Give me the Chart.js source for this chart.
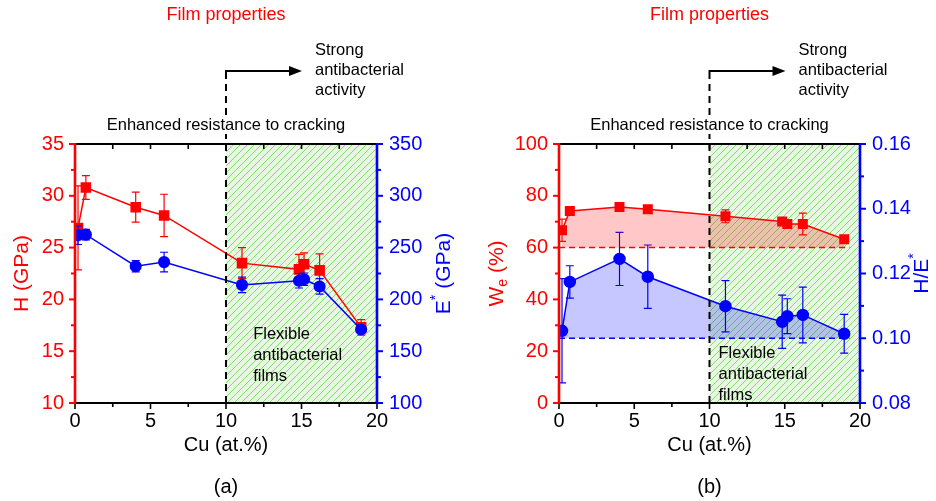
<!DOCTYPE html>
<html>
<head>
<meta charset="utf-8">
<script src="https://cdn.jsdelivr.net/npm/chart.js@4.4.1/dist/chart.umd.min.js"></script>
<style>
  html, body { margin: 0; padding: 0; background: #fff; }
  .wrap { position: relative; width: 936px; height: 501px; }
  canvas { position: absolute; top: 0; }
  #chartA { left: 0; }
  #chartB { left: 468px; }
</style>
</head>
<body>
<div class="wrap">
  <canvas id="chartA" width="468" height="501"></canvas>
  <canvas id="chartB" width="468" height="501"></canvas>
</div>
<script>
/* Cu-doped films: hardness, modulus, elastic recovery and H/E* vs Cu content */

const FONT = "'Liberation Sans', Arial, Helvetica, sans-serif";
const RED  = '#ff0000';
const BLUE = '#0000ff';

// Cu content of each film (at.%)
const cu = [0.2, 0.72, 4.02, 5.9, 11.06, 14.83, 15.17, 16.2, 18.95];

// (a) hardness H and effective modulus E*, GPa
const hardness    = [26.9, 30.8, 28.9, 28.1, 23.5, 22.9, 23.4, 22.8, 17.3];
const hardnessErr = [4.05, 1.15, 1.45, 2.05, 1.5, 1.45, 1.1, 1.6, 0.75];
const modulus     = [262, 262.5, 232, 236, 214, 218, 219.5, 212.5, 171];
const modulusErr  = [9, 5, 5.5, 9.5, 7.5, 7, 6, 7.5, 3.2];

// (b) elastic recovery We (%) and H/E*
const recovery    = [66.7, 74.1, 75.7, 74.8, 72.1, 70.1, 69.1, 69.1, 63.2];
const recoveryErr = [4.3, 1.4, 1.0, 1.0, 2.5, 1.2, 1.0, 4.2, 1.0];
const ratio       = [0.1023, 0.1174, 0.1245, 0.1190, 0.1099, 0.1051, 0.1068, 0.1072, 0.1014];
const ratioErr    = [0.0161, 0.0050, 0.0082, 0.0098, 0.0079, 0.0082, 0.0054, 0.0086, 0.0060];

// axis ticks
const cuTicks    = [0, 5, 10, 15, 20];
const hTicks     = [10, 15, 20, 25, 30, 35];
const eTicks     = [100, 150, 200, 250, 300, 350];
const weTicks    = [0, 20, 40, 60, 80, 100];
const ratioTicks = [0.08, 0.10, 0.12, 0.14, 0.16];

// reference levels and the flexible-film zone
const recoveryBase = 60;
const ratioBase    = 0.10;
const baseRange    = [0, 19.3];
const flexZone     = [10, 20];

const pts = ys => ys.map((y, i) => ({ x: cu[i], y }));
const font = (size) => `${size}px ${FONT}`;

function hatchPattern(ctx) {
  const s = 7;
  const c = document.createElement('canvas');
  c.width = c.height = s;
  const g = c.getContext('2d');
  g.fillStyle = '#e6f8df';
  g.fillRect(0, 0, s, s);
  g.strokeStyle = '#88d877';
  g.lineWidth = 1;
  g.beginPath();
  g.moveTo(0, s); g.lineTo(s, 0);
  g.moveTo(-1, 1); g.lineTo(1, -1);
  g.moveTo(s - 1, s + 1); g.lineTo(s + 1, s - 1);
  g.stroke();
  return ctx.createPattern(c, 'repeat');
}

// major ticks plus a minor tick halfway between each pair
function withMinor(vals) {
  const out = [];
  vals.forEach((v, i) => {
    out.push({ v, major: true });
    if (i < vals.length - 1) out.push({ v: (v + vals[i + 1]) / 2, major: false });
  });
  return out;
}

// rotated title made of runs (for sub/superscripts)
function rotatedTitle(ctx, cx, cy, parts, color) {
  ctx.save();
  ctx.translate(cx, cy);
  ctx.rotate(-Math.PI / 2);
  ctx.fillStyle = color;
  ctx.textBaseline = 'middle';
  ctx.textAlign = 'left';
  let w = 0;
  parts.forEach(p => { ctx.font = font(p.size || 21); w += ctx.measureText(p.t).width; });
  let x = -w / 2;
  parts.forEach(p => {
    ctx.font = font(p.size || 21);
    ctx.fillText(p.t, x, p.dy || 0);
    x += ctx.measureText(p.t).width;
  });
  ctx.restore();
}

const decor = {
  id: 'decor',
  beforeDatasetsDraw(chart) {
    const { ctx, chartArea: a, scales: { x } } = chart;
    const x0 = x.getPixelForValue(flexZone[0]);
    const x1 = x.getPixelForValue(flexZone[1]);
    ctx.save();
    ctx.fillStyle = hatchPattern(ctx);
    ctx.fillRect(x0, a.top, x1 - x0, a.bottom - a.top);
    ctx.restore();
  },
  // error bars go under each dataset's line and markers
  beforeDatasetDraw(chart, { index, meta }) {
    const ds = chart.data.datasets[index];
    if (!ds.errors) return;
    const ys = chart.scales[ds.yAxisID];
    const ctx = chart.ctx;
    ctx.save();
    ctx.strokeStyle = ds.borderColor;
    ctx.lineWidth = 1.2;
    meta.data.forEach((pt, i) => {
      const v = ds.data[i].y, e = ds.errors[i];
      const hi = ys.getPixelForValue(v + e), lo = ys.getPixelForValue(v - e);
      ctx.beginPath();
      ctx.moveTo(pt.x, hi); ctx.lineTo(pt.x, lo);
      ctx.moveTo(pt.x - 4, hi); ctx.lineTo(pt.x + 4, hi);
      ctx.moveTo(pt.x - 4, lo); ctx.lineTo(pt.x + 4, lo);
      ctx.stroke();
    });
    ctx.restore();
  },
  afterDraw(chart, args, o) {
    const { ctx, chartArea: a, scales } = chart;
    const xs = scales.x, yl = scales.y, yr = scales.y1;
    const line = (x1, y1, x2, y2) => { ctx.beginPath(); ctx.moveTo(x1, y1); ctx.lineTo(x2, y2); ctx.stroke(); };
    ctx.save();

    // frame and ticks
    ctx.strokeStyle = '#000';
    ctx.lineWidth = 1.6;
    withMinor(xs.ticks.map(t => t.value)).forEach(({ v, major }) => {
      const p = xs.getPixelForValue(v);
      line(p, a.bottom, p, a.bottom + (major ? 6 : 4));
      line(p, a.top, p, a.top + 5);
    });
    ctx.lineWidth = 1.8;
    line(a.left, a.top, a.right, a.top);
    line(a.left, a.bottom, a.right, a.bottom);

    ctx.strokeStyle = RED;
    ctx.lineWidth = 2;
    withMinor(yl.ticks.map(t => t.value)).forEach(({ v, major }) => {
      const p = yl.getPixelForValue(v);
      line(a.left, p, a.left - (major ? 6 : 4), p);
    });
    ctx.lineWidth = 2.6;
    line(a.left, a.top - 1, a.left, a.bottom + 1);

    ctx.strokeStyle = BLUE;
    ctx.lineWidth = 2;
    withMinor(yr.ticks.map(t => t.value)).forEach(({ v, major }) => {
      const p = yr.getPixelForValue(v);
      line(a.right, p, a.right + (major ? 6 : 4), p);
    });
    ctx.lineWidth = 2.6;
    line(a.right, a.top - 1, a.right, a.bottom + 1);

    // boundary at 10 at.% Cu with the arrow above the plot
    const x10 = xs.getPixelForValue(flexZone[0]);
    const arrowY = 71;
    ctx.strokeStyle = '#000';
    ctx.lineWidth = 2;
    ctx.setLineDash([7, 5]);
    line(x10, a.bottom, x10, arrowY);
    ctx.setLineDash([]);
    line(x10 - 1, arrowY, x10 + 66, arrowY);
    ctx.fillStyle = '#000';
    ctx.beginPath();
    ctx.moveTo(x10 + 76, arrowY);
    ctx.lineTo(x10 + 63, arrowY - 5);
    ctx.lineTo(x10 + 63, arrowY + 5);
    ctx.closePath();
    ctx.fill();

    ctx.textBaseline = 'middle';
    ctx.textAlign = 'center';
    ctx.font = font(18);
    ctx.fillStyle = RED;
    ctx.fillText('Film properties', x10, 15);

    ctx.font = font(16.5);
    const enh = 'Enhanced resistance to cracking';
    const ew = ctx.measureText(enh).width;
    ctx.fillStyle = '#fff';
    ctx.fillRect(x10 - ew / 2, 116, ew, 18);
    ctx.fillStyle = '#000';
    ctx.fillText(enh, x10, 125);

    ctx.textAlign = 'left';
    ctx.font = font(16.5);
    ['Strong', 'antibacterial', 'activity'].forEach((t, i) => ctx.fillText(t, x10 + 89, 50 + i * 20));

    const fx = xs.getPixelForValue(o.flexAt[0]);
    const fy = yl.getPixelForValue(o.flexAt[1]);
    ['Flexible', 'antibacterial', 'films'].forEach((t, i) => ctx.fillText(t, fx, fy + i * 21));

    // axis titles and panel letter
    const cx = (a.left + a.right) / 2;
    ctx.textAlign = 'center';
    ctx.font = font(20);
    ctx.fillText('Cu (at.%)', cx, 445);
    ctx.fillText(o.letter, cx, 487);
    rotatedTitle(ctx, a.left - o.leftTitleGap, (a.top + a.bottom) / 2, o.leftTitle, RED);
    rotatedTitle(ctx, a.right + o.rightTitleGap, (a.top + a.bottom) / 2, o.rightTitle, BLUE);

    ctx.restore();
  }
};

function valueAxis(ticks, color, position, width, pad, fmt) {
  return {
    type: 'linear',
    position,
    min: ticks[0],
    max: ticks[ticks.length - 1],
    afterBuildTicks: s => { s.ticks = ticks.map(v => ({ value: v })); },
    afterFit: s => { s.width = width; },
    grid: { display: false, drawTicks: false },
    border: { display: false },
    ticks: { color, padding: pad, font: { family: FONT, size: 20 }, callback: fmt || (v => String(v)) }
  };
}

function panel(id, o) {
  return new Chart(document.getElementById(id), {
    type: 'line',
    data: { datasets: o.datasets },
    options: {
      responsive: false,
      animation: false,
      layout: { padding: { top: 144, left: 0, right: 0, bottom: 0 } },
      elements: { line: { tension: 0 } },
      plugins: {
        legend: { display: false },
        tooltip: { enabled: false },
        decor: o.decor
      },
      scales: {
        x: {
          type: 'linear',
          position: 'bottom',
          min: cuTicks[0],
          max: cuTicks[cuTicks.length - 1],
          afterBuildTicks: s => { s.ticks = cuTicks.map(v => ({ value: v })); },
          afterFit: s => { s.height = 98; },
          grid: { display: false, drawTicks: false },
          border: { display: false },
          ticks: { color: '#000', padding: 6, font: { family: FONT, size: 20 } }
        },
        y:  valueAxis(o.leftTicks, RED, 'left', o.leftWidth, 11, o.leftFmt),
        y1: valueAxis(o.rightTicks, BLUE, 'right', o.rightWidth, 12, o.rightFmt)
      }
    },
    plugins: [decor]
  });
}

panel('chartA', {
  leftTicks: hTicks, rightTicks: eTicks,
  leftWidth: 75, rightWidth: 91,
  datasets: [
    {
      label: 'E*', data: pts(modulus), errors: modulusErr, yAxisID: 'y1',
      borderColor: BLUE, backgroundColor: BLUE, borderWidth: 1.5,
      pointStyle: 'circle', pointRadius: 5.3, fill: false, order: 0
    },
    {
      label: 'H', data: pts(hardness), errors: hardnessErr, yAxisID: 'y',
      borderColor: RED, backgroundColor: RED, borderWidth: 1.5,
      pointStyle: 'rect', pointRadius: 6.4, fill: false, order: 1
    }
  ],
  decor: {
    letter: '(a)',
    flexAt: [11.8, 16.6],
    leftTitleGap: 53, rightTitleGap: 67,
    leftTitle: [{ t: 'H (GPa)' }],
    rightTitle: [{ t: 'E' }, { t: '*', size: 14, dy: -8 }, { t: ' (GPa)' }]
  }
});

panel('chartB', {
  leftTicks: weTicks, rightTicks: ratioTicks,
  leftWidth: 91, rightWidth: 76,
  rightFmt: v => v.toFixed(2),
  datasets: [
    {
      label: 'We', data: pts(recovery), errors: recoveryErr, yAxisID: 'y',
      borderColor: RED, backgroundColor: 'rgba(255,0,0,0.22)', borderWidth: 1.5,
      pointBackgroundColor: RED, pointBorderColor: RED,
      pointStyle: 'rect', pointRadius: 6, fill: { value: recoveryBase }, order: 0
    },
    {
      label: 'We level', yAxisID: 'y',
      data: baseRange.map(x => ({ x, y: recoveryBase })),
      borderColor: RED, borderWidth: 1.5, borderDash: [6, 4],
      pointRadius: 0, fill: false, order: 2
    },
    {
      label: 'H/E*', data: pts(ratio), errors: ratioErr, yAxisID: 'y1',
      borderColor: BLUE, backgroundColor: 'rgba(0,0,255,0.22)', borderWidth: 1.5,
      pointBackgroundColor: BLUE, pointBorderColor: BLUE,
      pointStyle: 'circle', pointRadius: 5.5, fill: { value: ratioBase }, order: 1
    },
    {
      label: 'H/E* level', yAxisID: 'y1',
      data: baseRange.map(x => ({ x, y: ratioBase })),
      borderColor: BLUE, borderWidth: 1.5, borderDash: [6, 4],
      pointRadius: 0, fill: false, order: 2
    }
  ],
  decor: {
    letter: '(b)',
    flexAt: [10.6, 19.3],
    leftTitleGap: 62, rightTitleGap: 62,
    leftTitle: [{ t: 'W' }, { t: 'e', size: 14, dy: 6 }, { t: ' (%)' }],
    rightTitle: [{ t: 'H/E' }, { t: '*', size: 14, dy: -8 }]
  }
});
</script>
</body>
</html>
